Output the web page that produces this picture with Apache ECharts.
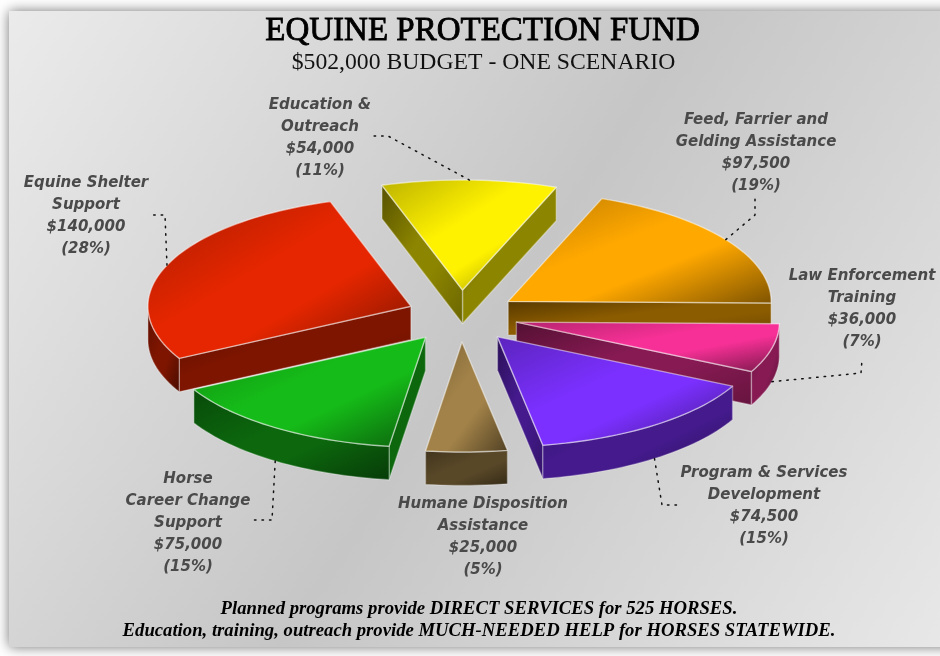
<!DOCTYPE html>
<html>
<head>
<meta charset="utf-8">
<style>html,body{margin:0;padding:0;background:#fff}#c{width:940px;height:656px}</style>
<script src="https://cdn.jsdelivr.net/npm/echarts@6/dist/echarts.min.js"></script>
</head>
<body>
<div id="c"></div>
<script>
// ---- data ----
var categories = ['Feed, Farrier and\nGelding Assistance', 'Education &\nOutreach', 'Equine Shelter\nSupport', 'Horse\nCareer Change\nSupport', 'Humane Disposition\nAssistance', 'Program & Services\nDevelopment', 'Law Enforcement\nTraining'];
var values = [97500, 54000, 140000, 75000, 25000, 74500, 36000];
var percentLabels = ['19%', '11%', '28%', '15%', '5%', '15%', '7%'];
var colors = ['#ffa800', '#fff200', '#e52600', '#15bb18', '#a28248', '#7b30ff', '#f63096'];
var titleText = 'EQUINE PROTECTION FUND';
var subtitleText = '$502,000 BUDGET - ONE SCENARIO';
var noteLines = ['Planned programs provide DIRECT SERVICES for 525 HORSES.', 'Education, training, outreach provide MUCH-NEEDED HELP for HORSES STATEWIDE.'];

// ---- layout ----
var pie = { cx: 461, cy: 316, rx: 263, ry: 110, depth: 33.5, explodeY: 26, startDeg: -0.8 };
var explodeX = [57, 57, 54, 62, 57, 61, 57];
var drawOrder = [0, 1, 2, 6, 3, 5, 4];
var labelPos = [[756, 109], [320, 94], [86, 172], [188, 468], [483, 493], [764, 462], [862, 265]];
var leaderElbows = [[[755, 215], [755, 198]], [[388, 136], [372, 136]], [[165, 215], [148, 215]], [[272, 520], [254, 520]], null, [[662, 505], [678, 505]], [[861, 373], [862, 360]]];
var serif = '"Liberation Serif"', sans = '"DejaVu Sans"';

var total = values.reduce(function (a, b) { return a + b; }, 0);
var slices = [], acc = 0, start0 = pie.startDeg * Math.PI / 180;
values.forEach(function (v) {
  var a = start0 + acc / total * Math.PI * 2;
  acc += v;
  slices.push({ a: a, b: start0 + acc / total * Math.PI * 2 });
});

function shade(hex, f) {
  var n = parseInt(hex.slice(1), 16);
  return 'rgb(' + [(n >> 16) & 255, (n >> 8) & 255, n & 255].map(function (c) { return Math.round(c * f); }).join(',') + ')';
}
// corner-to-corner gradient whose bands run along the box's other diagonal
function grad(pts, color, edge0, mid, edge1) {
  var xs = pts.map(function (p) { return p[0]; }), ys = pts.map(function (p) { return p[1]; });
  var x0 = Math.min.apply(null, xs), x1 = Math.max.apply(null, xs), y0 = Math.min.apply(null, ys), y1 = Math.max.apply(null, ys);
  var w = x1 - x0, h = y1 - y0, n = Math.sqrt(w * w + h * h), l = 2 * w * h / n;
  return {
    type: 'linear', global: true, x: x0, y: y0, x2: x0 + h / n * l, y2: y0 + w / n * l,
    colorStops: [
      { offset: 0, color: shade(color, edge0) }, { offset: 0.42, color: shade(color, mid) },
      { offset: 0.62, color: shade(color, mid) }, { offset: 1, color: shade(color, edge1) }
    ]
  };
}
function face(pts, fill, strokeAlpha) {
  return { type: 'polygon', shape: { points: pts }, style: { fill: fill, stroke: 'rgba(255,255,255,' + strokeAlpha + ')', lineWidth: 1.4, lineJoin: 'round' } };
}
function renderItem(params, api) {
  var i = api.value(0), s = slices[i], color = colors[i];
  var mid = (s.a + s.b) / 2;
  var ax = pie.cx + explodeX[i] * Math.cos(mid), ay = pie.cy - pie.explodeY * Math.sin(mid);
  var rim = function (t, d) { return [ax + pie.rx * Math.cos(t), ay - pie.ry * Math.sin(t) + (d || 0)]; };
  var arc = function (t0, t1, d) {
    var n = Math.max(2, Math.ceil((t1 - t0) / 0.03)), r = [];
    for (var k = 0; k <= n; k++) r.push(rim(t0 + (t1 - t0) * k / n, d));
    return r;
  };
  var apex = [ax, ay], apexLow = [ax, ay + pie.depth], H = pie.depth, kids = [];
  // inner walls, only when they face the viewer
  if (Math.cos(s.a) > 1e-6) {
    var w1 = [apex, rim(s.a), rim(s.a, H), apexLow];
    kids.push(face(w1, grad(w1, color, 0.34, 0.55, 0.42), 0.35));
  }
  if (Math.cos(s.b) < -1e-6) {
    var w2 = [apex, rim(s.b), rim(s.b, H), apexLow];
    kids.push(face(w2, grad(w2, color, 0.34, 0.55, 0.42), 0.35));
  }
  // outer wall on the near half of the ellipse
  var lo = Math.max(s.a, Math.PI), hi = Math.min(s.b, Math.PI * 2);
  if (hi > lo) {
    var w3 = arc(lo, hi, 0).concat(arc(lo, hi, H).reverse());
    kids.push(face(w3, grad(w3, color, 0.4, 0.55, 0.32), 0.3));
  }
  // top
  var top = [apex].concat(arc(s.a, s.b, 0));
  kids.push(face(top, grad(top, color, 0.74, 1, 0.5), 0.5));
  // leader
  if (leaderElbows[i]) {
    var front = Math.sin(mid) < 0;
    var start = rim(mid, front ? H : 0);
    kids.push({
      type: 'polyline', shape: { points: [start].concat(leaderElbows[i]) },
      style: { fill: null, stroke: '#111', lineWidth: 1.5, lineDash: [1.5, 6], lineCap: 'round' }
    });
  }
  // label
  var text = categories[i] + '\n$' + values[i].toLocaleString('en-US') + '\n(' + percentLabels[i] + ')';
  kids.push({
    type: 'text', x: labelPos[i][0], y: labelPos[i][1],
    style: { text: text, fill: '#4a4a4a', font: 'italic bold 15px ' + sans, align: 'center', verticalAlign: 'top', lineHeight: 22 }
  });
  return { type: 'group', children: kids };
}

var chart = echarts.init(document.getElementById('c'), null, { renderer: 'canvas' });
chart.setOption({
  animation: false,
  backgroundColor: '#fff',
  graphic: [
    {
      type: 'rect', z: -10, shape: { x: 9, y: 11, width: 960, height: 636 },
      style: {
        fill: { type: 'linear', x: 0, y: 0, x2: 1, y2: 1, colorStops: [{ offset: 0, color: '#ebebeb' }, { offset: 0.5, color: '#c6c6c6' }, { offset: 1, color: '#e9e9e9' }] },
        shadowBlur: 12, shadowColor: 'rgba(0,0,0,0.55)'
      }
    },
    { type: 'text', z: 5, x: 482.5, y: 31, style: { text: titleText, fill: '#000', font: '33px ' + serif, align: 'center', verticalAlign: 'middle', stroke: '#000', lineWidth: 0.8 } },
    { type: 'text', z: 5, x: 483.5, y: 63, style: { text: subtitleText, fill: '#111', font: '23.7px ' + serif, align: 'center', verticalAlign: 'middle' } },
    { type: 'text', z: 5, x: 479, y: 609, style: { text: noteLines[0], fill: '#000', font: 'italic bold 18.7px ' + serif, align: 'center', verticalAlign: 'middle' } },
    { type: 'text', z: 5, x: 479, y: 631, style: { text: noteLines[1], fill: '#000', font: 'italic bold 18.7px ' + serif, align: 'center', verticalAlign: 'middle' } }
  ],
  series: [{
    type: 'custom', coordinateSystem: 'none', renderItem: renderItem, silent: true,
    data: drawOrder.map(function (i) { return [i, values[i]]; })
  }]
});
</script>
</body>
</html>
